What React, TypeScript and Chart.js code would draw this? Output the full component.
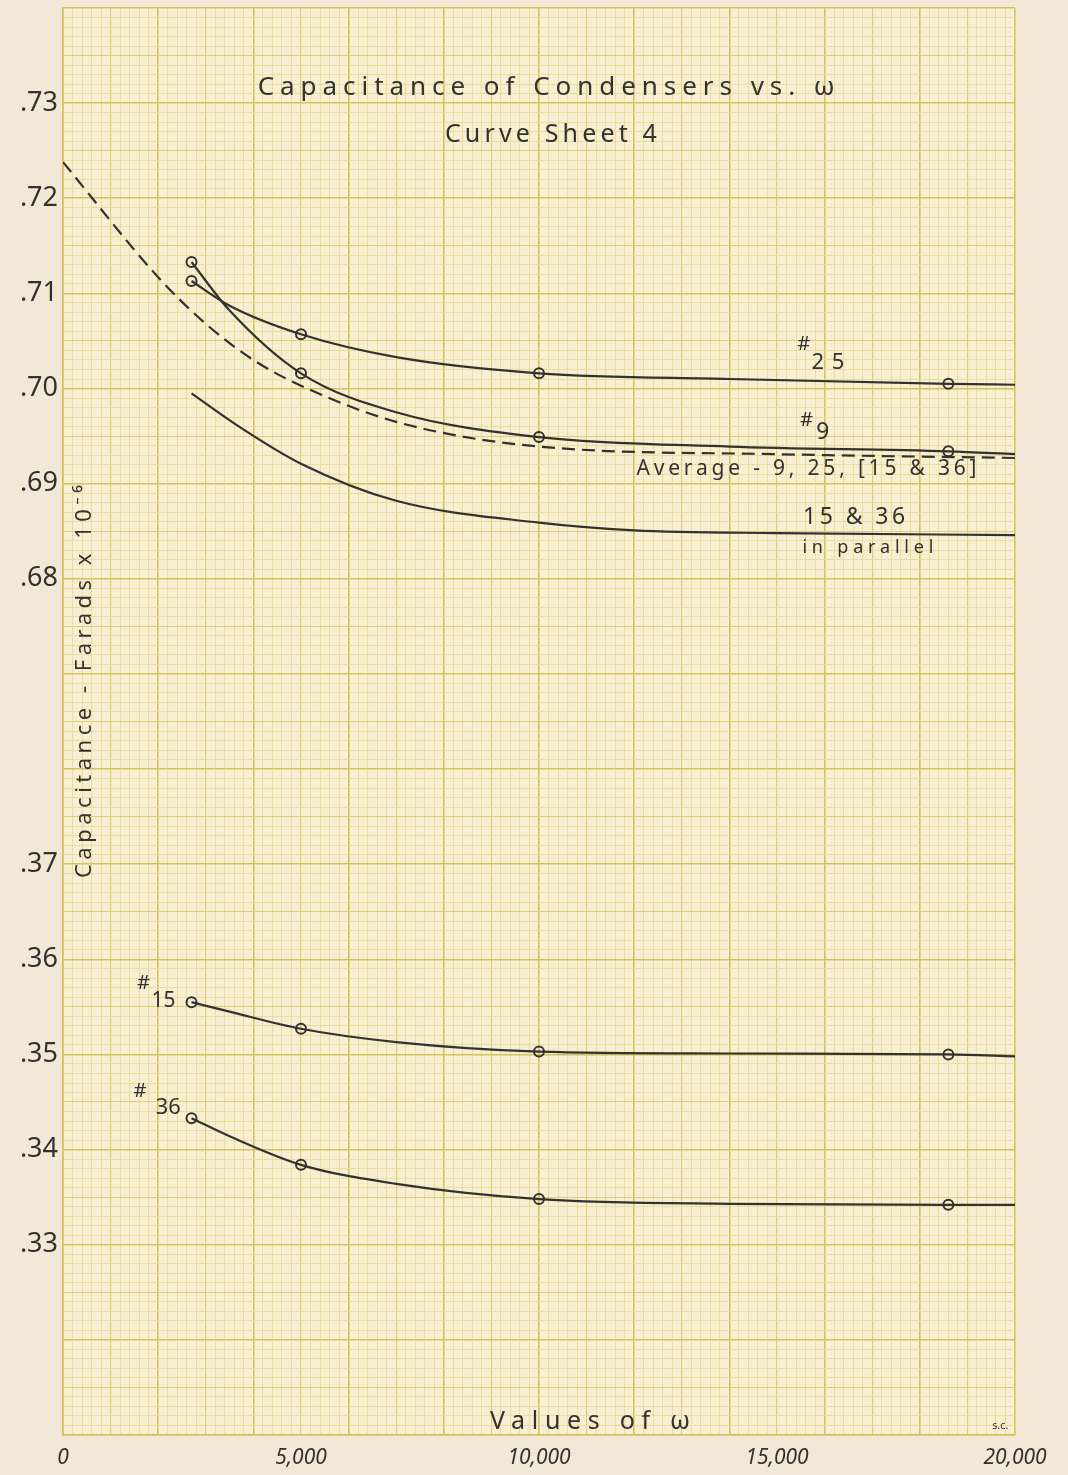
import React, { useEffect, useRef } from 'react';
import { Chart, registerables } from 'chart.js';

Chart.register(...registerables);

// ---- data ----
// omega values along each drawn curve; circles are plotted at the measured points
const omegaCurve = [2700, 3500, 5000, 7000, 10000, 14000, 18600, 20000];
const omegaMarks = [2700, 5000, 10000, 18600];
const cap25 = [0.7113, 0.7087, 0.7057, 0.7033, 0.7016, 0.701, 0.7005, 0.7004];
const cap9 = [0.7133, 0.7082, 0.7016, 0.6975, 0.6949, 0.6939, 0.6934, 0.6931];
const cap15 = [0.3555, 0.3545, 0.3527, 0.3513, 0.3503, 0.3501, 0.35, 0.3498];
const cap36 = [0.3433, 0.3414, 0.3384, 0.3364, 0.3348, 0.3343, 0.3342, 0.3342];
const omegaAvg = [0, 2000, 3000, 4000, 5000, 7000, 10000, 15000, 20000];
const capAvg = [0.7238, 0.7117, 0.7068, 0.703, 0.7003, 0.6965, 0.6939, 0.6931, 0.6927];
const omegaPar = [2700, 3700, 5000, 7000, 10000, 12000, 15000, 20000];
const capPar = [0.6995, 0.696, 0.6921, 0.6882, 0.6859, 0.6851, 0.6848, 0.6846];

const xTickValues = [0, 5000, 10000, 15000, 20000];
const xTickLabels = ['0', '5,000', '10,000', '15,000', '20,000'];
const yUpperTicks = [0.73, 0.72, 0.71, 0.7, 0.69, 0.68];
const yUpperLabels = ['.73', '.72', '.71', '.70', '.69', '.68'];
const yLowerTicks = [0.37, 0.36, 0.35, 0.34, 0.33];
const yLowerLabels = ['.37', '.36', '.35', '.34', '.33'];
// the lower block (.33 - .37) is drawn where .61 - .65 would be (broken axis)
const BREAK_SHIFT = 0.28;

const INK = '#33322e';
const FONT = '"Noto Sans", sans-serif';

const pts = (xs: number[], ys: number[], shift = 0) =>
  xs.map((x, i) => ({ x, y: ys[i] + shift }));

function fitText(
  ctx: CanvasRenderingContext2D,
  text: string,
  cx: number,
  cy: number,
  size: number,
  width: number
) {
  ctx.save();
  ctx.font = `400 ${size}px ${FONT}`;
  (ctx as any).letterSpacing = '0px';
  const w0 = ctx.measureText(text).width;
  const n = Array.from(text).length;
  ctx.fillStyle = INK;
  ctx.textBaseline = 'middle';
  ctx.textAlign = 'left';
  if (w0 >= width || n < 2) {
    ctx.translate(cx - width / 2, cy);
    ctx.scale(width / w0, 1);
    ctx.fillText(text, 0, 0);
  } else {
    const sp = (width - w0) / (n - 1);
    (ctx as any).letterSpacing = sp + 'px';
    ctx.fillText(text, cx - width / 2, cy);
  }
  ctx.restore();
}

const paperPlugin = {
  id: 'paper',
  beforeDraw(chart: any) {
    const { ctx, chartArea: a } = chart;
    ctx.save();
    ctx.fillStyle = '#f3e8d8';
    ctx.fillRect(0, 0, chart.width, chart.height);
    ctx.fillStyle = '#f8eed2';
    ctx.fillRect(a.left, a.top, a.right - a.left, a.bottom - a.top);
    ctx.restore();
  },
  afterDraw(chart: any) {
    const { ctx } = chart;
    const X = (v: number) => chart.scales.x.getPixelForValue(v);
    const Y = (v: number) => chart.scales.y.getPixelForValue(v);
    fitText(ctx, 'Capacitance of Condensers vs. ω', X(10150), Y(0.7316), 26, 577);
    fitText(ctx, 'Curve Sheet 4', X(10250), Y(0.7267), 25, 212);
    fitText(ctx, '#', X(15560), Y(0.7046), 19, 13);
    fitText(ctx, '25', X(16070), Y(0.7027), 22, 33);
    fitText(ctx, '#', X(15620), Y(0.6966), 19, 13);
    fitText(ctx, '9', X(15960), Y(0.6954), 23, 13);
    fitText(ctx, 'Average - 9, 25, [15 & 36]', X(15620), Y(0.69155), 21, 340);
    fitText(ctx, '15 & 36', X(16620), Y(0.6865), 23, 102);
    fitText(ctx, 'in parallel', X(16910), Y(0.6833), 18, 131);
    fitText(ctx, '#', X(1690), Y(0.6375), 19, 13);
    fitText(ctx, '15', X(2110), Y(0.6356), 22, 24);
    fitText(ctx, '#', X(1620), Y(0.6261), 19, 13);
    fitText(ctx, '36', X(2210), Y(0.6244), 22, 25);
    fitText(ctx, 'Values of ω', X(11070), Y(0.5914), 25, 200);
    fitText(ctx, 's.c.', X(19690), Y(0.591), 11, 16);
    ctx.save();
    ctx.translate(X(460), Y(0.6692));
    ctx.rotate(-Math.PI / 2);
    fitText(ctx, 'Capacitance - Farads x 10⁻⁶', 0, 0, 22, 393);
    ctx.restore();
  },
};

const gridStyle = (major: boolean, medium: boolean) =>
  major ? '#d3c35e' : medium ? '#dccf7c' : '#e6db9c';
const gridWidth = (major: boolean, medium: boolean) => (major ? 1.6 : medium ? 1.1 : 0.9);

const lineBase = {
  borderColor: INK,
  borderWidth: 2.2,
  pointBorderColor: INK,
  pointBackgroundColor: 'rgba(0,0,0,0)',
  pointBorderWidth: 2,
  pointStyle: 'circle',
  cubicInterpolationMode: 'monotone' as const,
  fill: false,
};

const markRadius = (ctx: any) => {
  const p = ctx.raw;
  return p && omegaMarks.includes(p.x) ? 5 : 0;
};

export default function App() {
  const ref = useRef<HTMLCanvasElement>(null);
  useEffect(() => {
    const chart = new Chart(ref.current as HTMLCanvasElement, {
      type: 'line',
      data: {
        datasets: [
          { ...lineBase, label: '#25', data: pts(omegaCurve, cap25), pointRadius: markRadius },
          { ...lineBase, label: '#9', data: pts(omegaCurve, cap9), pointRadius: markRadius },
          {
            ...lineBase,
            label: 'Average - 9, 25, [15 & 36]',
            data: pts(omegaAvg, capAvg),
            borderDash: [13, 7],
            pointRadius: 0,
          },
          { ...lineBase, label: '15 & 36 in parallel', data: pts(omegaPar, capPar), pointRadius: 0 },
          {
            ...lineBase,
            label: '#15',
            data: pts(omegaCurve, cap15, BREAK_SHIFT),
            pointRadius: markRadius,
          },
          {
            ...lineBase,
            label: '#36',
            data: pts(omegaCurve, cap36, BREAK_SHIFT),
            pointRadius: markRadius,
          },
        ] as any,
      },
      options: {
        responsive: false,
        animation: false,
        layout: { padding: { top: 8, right: 53, left: 0, bottom: 0 } },
        plugins: { legend: { display: false }, tooltip: { enabled: false } },
        scales: {
          x: {
            type: 'linear',
            min: 0,
            max: 20000,
            afterFit: (s: any) => {
              s.height = 40;
              s.paddingLeft = 0;
              s.paddingRight = 0;
            },
            border: { display: true, color: '#d3c35e', width: 1.6 },
            grid: {
              drawTicks: false,
              color: (c: any) => {
                const m = Math.round(c.tick.value / 200);
                return gridStyle(m % 10 === 0, m % 5 === 0);
              },
              lineWidth: (c: any) => {
                const m = Math.round(c.tick.value / 200);
                return gridWidth(m % 10 === 0, m % 5 === 0);
              },
            },
            ticks: {
              stepSize: 200,
              autoSkip: false,
              maxRotation: 0,
              minRotation: 0,
              padding: 10,
              color: INK,
              font: { family: 'Noto Sans', size: 21, style: 'italic' },
              callback: (v: any) => {
                const i = xTickValues.indexOf(Math.round(Number(v)));
                return i >= 0 ? xTickLabels[i] : '';
              },
            },
          },
          y: {
            type: 'linear',
            min: 0.59,
            max: 0.74,
            afterFit: (s: any) => {
              s.width = 63;
              s.paddingTop = 0;
              s.paddingBottom = 0;
            },
            border: { display: true, color: '#d3c35e', width: 1.6 },
            grid: {
              drawTicks: false,
              color: (c: any) => {
                const m = Math.round(c.tick.value * 1000);
                return gridStyle(m % 10 === 0, m % 5 === 0);
              },
              lineWidth: (c: any) => {
                const m = Math.round(c.tick.value * 1000);
                return gridWidth(m % 10 === 0, m % 5 === 0);
              },
            },
            ticks: {
              stepSize: 0.001,
              autoSkip: false,
              padding: 5,
              color: INK,
              font: { family: 'Noto Sans', size: 27 },
              callback: (value: any) => {
                const v = Math.round(Number(value) * 1000);
                let i = yUpperTicks.findIndex((t) => Math.round(t * 1000) === v);
                if (i >= 0) return yUpperLabels[i];
                i = yLowerTicks.findIndex((t) => Math.round((t + BREAK_SHIFT) * 1000) === v);
                if (i >= 0) return yLowerLabels[i];
                return '';
              },
            },
          },
        },
      } as any,
      plugins: [paperPlugin],
    });
    return () => chart.destroy();
  }, []);
  return (
    <div
      style={{
        position: 'absolute',
        left: 0,
        top: 0,
        width: 1068,
        height: 1475,
        background: '#f3e8d8',
      }}
    >
      <canvas ref={ref} width={1068} height={1475} style={{ display: 'block' }} />
    </div>
  );
}
